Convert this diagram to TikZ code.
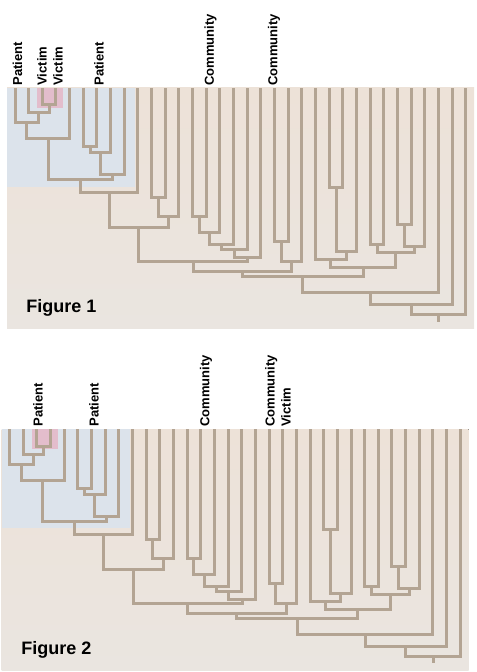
\documentclass[tikz,border=0pt]{standalone}
\usepackage{fontspec}
\setmainfont{Liberation Sans}
\usetikzlibrary{calc}

\definecolor{bark}{HTML}{B3A493}
\definecolor{sand}{HTML}{EDE2D8}
\definecolor{sandlow}{HTML}{EAE5E0}
\definecolor{sky}{HTML}{DCE3EB}
\definecolor{rose}{HTML}{E3BDCC}

\newcommand{\joinclade}[4]{%
  \coordinate (#1-tmp) at ($(#2)!0.5!(#3)$);
  \coordinate (#1) at (#1-tmp |- 0,#4);
  \draw[branch] (#2) |- (#1) -| (#3);
}

\begin{document}
\begin{tikzpicture}[x=0.5pt,y=-0.5pt]
        \tikzstyle{branch} = [draw=bark, line width=1.5pt]
        \tikzstyle{tag} = [rotate=90, anchor=west, inner sep=0pt, align=left, font=\bfseries\fontsize{6.5}{8}\selectfont]
        \tikzstyle{caption} = [anchor=west, inner sep=0pt, font=\bfseries\fontsize{9}{11}\selectfont]

        \useasboundingbox (0,0) rectangle (476,672);

        \foreach \f/\dx/\dy in {A/0/0, B/-5.5/341} {
          \begin{scope}[shift={(\dx,\dy)}]
            \fill[top color=sand, bottom color=sandlow] (7,88) rectangle (474,329);
            \fill[sky] (7,88) rectangle (135,187);
            \fill[rose] (37,88) rectangle (63,108);
            \foreach \i in {1,...,34}
              \coordinate (\f-l\i) at ({15+(\i-1)*13.66},88);

            \joinclade{\f-a}{\f-l3}{\f-l4}{105}
            \joinclade{\f-b}{\f-l2}{\f-a}{113}
            \joinclade{\f-c}{\f-l1}{\f-b}{123}
            \joinclade{\f-d}{\f-c}{\f-l5}{139}
            \joinclade{\f-e}{\f-l6}{\f-l7}{147}
            \joinclade{\f-f}{\f-e}{\f-l8}{153}
            \joinclade{\f-g}{\f-f}{\f-l9}{175}
            \joinclade{\f-h}{\f-d}{\f-g}{180}
            \joinclade{\f-i}{\f-h}{\f-l10}{193}
            \joinclade{\f-j}{\f-l11}{\f-l12}{198}
            \joinclade{\f-k}{\f-j}{\f-l13}{217}
            \joinclade{\f-l}{\f-i}{\f-k}{228}
            \joinclade{\f-p1}{\f-l14}{\f-l15}{217}
            \joinclade{\f-p2}{\f-p1}{\f-l16}{233}
            \joinclade{\f-p3}{\f-p2}{\f-l17}{245}
            \joinclade{\f-p4}{\f-p3}{\f-l18}{250}
            \joinclade{\f-p5}{\f-p4}{\f-l19}{258}
            \joinclade{\f-m}{\f-l}{\f-p5}{262}
            \joinclade{\f-q1}{\f-l20}{\f-l21}{242}
            \joinclade{\f-q2}{\f-q1}{\f-l22}{262}
            \joinclade{\f-n}{\f-m}{\f-q2}{272}
            \joinclade{\f-r1}{\f-l24}{\f-l25}{188}
            \joinclade{\f-r2}{\f-r1}{\f-l26}{252}
            \joinclade{\f-r3}{\f-l23}{\f-r2}{260}
            \joinclade{\f-s1}{\f-l27}{\f-l28}{245}
            \joinclade{\f-s2}{\f-l29}{\f-l30}{225}
            \joinclade{\f-s3}{\f-s2}{\f-l31}{247}
            \joinclade{\f-s4}{\f-s1}{\f-s3}{253}
            \joinclade{\f-t}{\f-r3}{\f-s4}{268}
            \joinclade{\f-u}{\f-n}{\f-t}{277}
            \joinclade{\f-v}{\f-u}{\f-l32}{293}
            \joinclade{\f-w}{\f-v}{\f-l33}{305}
            \joinclade{\f-root}{\f-w}{\f-l34}{315}
            \draw[branch] (\f-root) -- ++(0,7);
          \end{scope}
        }

        \node (pat1) [tag] at (17.5,86) {Patient};
        \node (vic1) [tag] at (42,86) {Victim};
        \node (vic2) [tag] at (58,86) {Victim};
        \node (pat2) [tag] at (99,86) {Patient};
        \node (com1) [tag] at (210.5,86) {Community};
        \node (com2) [tag] at (274,86) {Community};
        \node (fig1) [caption] at (26,308) {Figure 1};

        \node (pat3) [tag] at (38,427) {Patient};
        \node (pat4) [tag] at (94,427) {Patient};
        \node (com3) [tag] at (206,427) {Community};
        \node (com4) [tag] at (278,427) {Community\\Victim};
        \node (fig2) [caption] at (21,650) {Figure 2};
\end{tikzpicture}
\end{document}
